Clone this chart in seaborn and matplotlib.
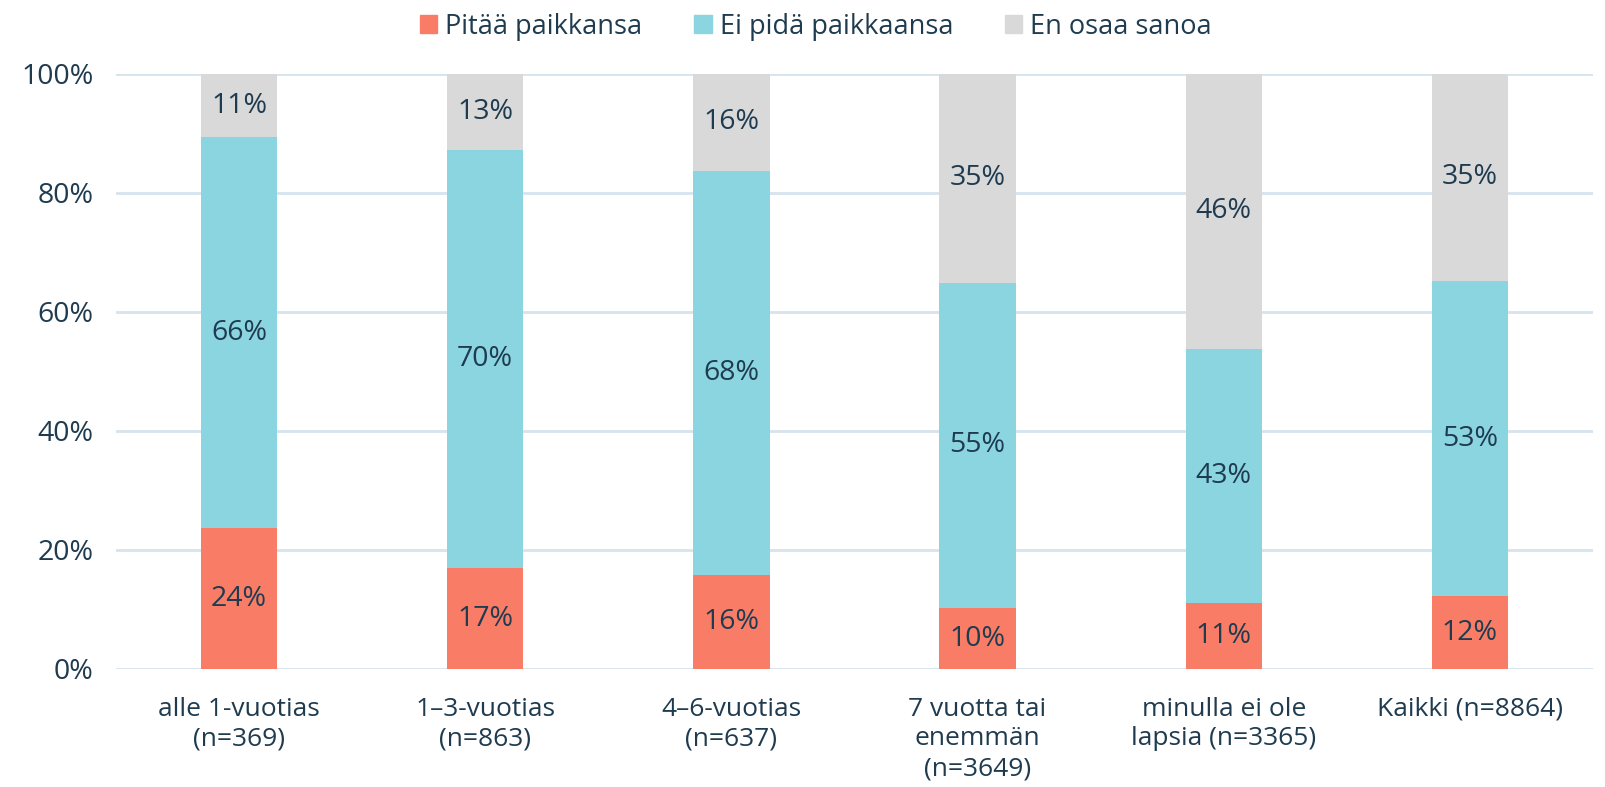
import seaborn as sns
import matplotlib.pyplot as plt
import matplotlib.patches as mpatches
import numpy as np
import pandas as pd

# data (percent of respondents)
groups = ['alle 1-vuotias\n(n=369)', '1–3-vuotias\n(n=863)', '4–6-vuotias\n(n=637)',
          '7 vuotta tai\nenemmän\n(n=3649)', 'minulla ei ole\nlapsia (n=3365)', 'Kaikki (n=8864)']
pitaa = [23.6, 16.9, 15.7, 10.2, 11.0, 12.2]
ei_pida = [65.7, 70.2, 67.9, 54.7, 42.7, 53.0]
en_osaa = [10.7, 12.9, 16.4, 35.1, 46.3, 34.8]
series = ['Pitää paikkansa', 'Ei pidä paikkaansa', 'En osaa sanoa']

colors = ['#F97D66', '#8AD5E0', '#D9D9D9']
txt = '#1F3B4F'

sns.set_theme(style='white')
plt.rcParams['font.family'] = ['Open Sans', 'DejaVu Sans']

df = pd.DataFrame({'group': groups, 'p': pitaa, 'e': ei_pida, 'n': en_osaa})
df['c1'] = df['p']
df['c2'] = df['p'] + df['e']
df['c3'] = df['c2'] + df['n']

fig = plt.figure(figsize=(16.06, 7.87), dpi=100)
ax = fig.add_axes([0.0722, 0.150, 0.9197, 0.7564])

ax.yaxis.grid(True, color='#D6E4EE', linewidth=2)
ax.set_axisbelow(True)

# cumulative bars drawn from tallest down
for col, c in zip(['c3', 'c2', 'c1'], colors[::-1]):
    sns.barplot(data=df, x='group', y=col, color=c, width=0.31, ax=ax,
                saturation=1, linewidth=0, zorder=3)

for i in range(len(groups)):
    segs = [(0, pitaa[i]), (pitaa[i], ei_pida[i]), (pitaa[i] + ei_pida[i], en_osaa[i])]
    for b, h in segs:
        ax.text(i, b + h / 2, '{:.0f}%'.format(h), ha='center', va='center',
                fontsize=20.5, color=txt, zorder=5)

ax.set_ylim(0, 100)
ax.set_xlim(-0.5, len(groups) - 0.5)
ax.set_yticks(np.arange(0, 101, 20))
ax.set_yticklabels(['{}%'.format(v) for v in range(0, 101, 20)])
ax.set_xlabel('')
ax.set_ylabel('')
ax.tick_params(axis='both', length=0, labelcolor=txt)
ax.tick_params(axis='x', pad=20, labelsize=19)
ax.tick_params(axis='y', pad=16, labelsize=20.5)
for lbl in ax.get_xticklabels():
    lbl.set_linespacing(1.25)
for s in ax.spines.values():
    s.set_visible(False)

handles = [mpatches.Patch(color=c, label=l) for c, l in zip(colors, series)]
fig.legend(handles=handles, loc='upper center', bbox_to_anchor=(0.508, 1.015), ncol=3,
           frameon=False, fontsize=19.5, labelcolor=txt, handlelength=0.65, handleheight=0.65,
           handletextpad=0.3, columnspacing=1.9)

fig.savefig('out.png', dpi=100)
